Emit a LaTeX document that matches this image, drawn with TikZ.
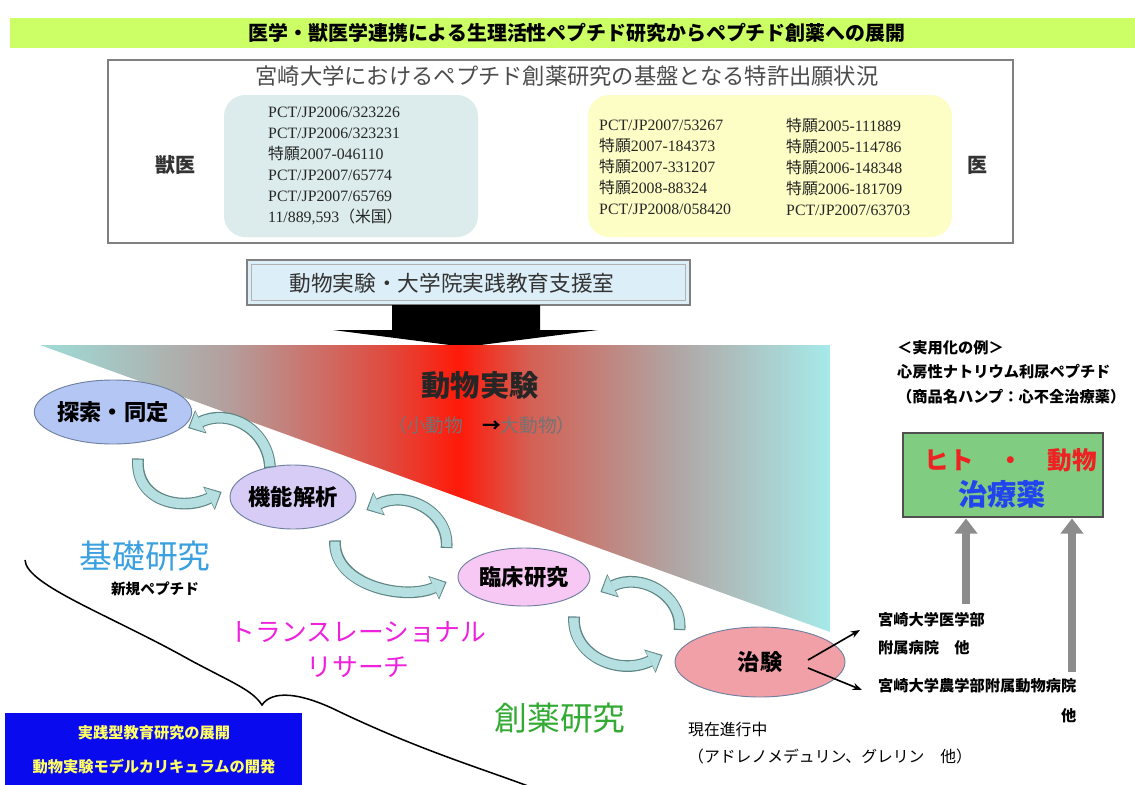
\documentclass[tikz,border=0pt]{standalone}
\usepackage{fontspec}
\setmainfont{Noto Sans CJK JP}
\newfontfamily\ser{Liberation Serif}
\newfontfamily\jp{Noto Sans CJK JP}
\usetikzlibrary{shapes.geometric,arrows.meta,calc}
\definecolor{titlegreen}{HTML}{CCFF66}
\definecolor{boxedge}{HTML}{808080}
\definecolor{tealbox}{HTML}{DCECEC}
\definecolor{yellowbox}{HTML}{FDFDC6}
\definecolor{supfill}{HTML}{DCEEF8}
\definecolor{tl}{HTML}{9EDCD8}
\definecolor{grA}{HTML}{B49E9C}
\definecolor{rdA}{HTML}{E04A3E}
\definecolor{rd}{HTML}{FF1A0A}
\definecolor{rdB}{HTML}{D46054}
\definecolor{grB}{HTML}{B0A4A2}
\definecolor{tr}{HTML}{A6EAEA}
\definecolor{arrowfill}{HTML}{B5DFE0}
\definecolor{arrowedge}{HTML}{5F8585}
\definecolor{elledge}{HTML}{7080A0}
\definecolor{eA}{HTML}{B4C6F4}
\definecolor{eB}{HTML}{D6CCF6}
\definecolor{eC}{HTML}{F8C8F4}
\definecolor{eD}{HTML}{F0A0A6}
\definecolor{kisoblue}{HTML}{3AA0E0}
\definecolor{transmag}{HTML}{EE22DD}
\definecolor{souyakugreen}{HTML}{33AA33}
\definecolor{deepblue}{HTML}{0A0AEE}
\definecolor{yellowtext}{HTML}{FFFF66}
\definecolor{greenbox}{HTML}{80CC80}
\definecolor{greenedge}{HTML}{505050}
\definecolor{hred}{HTML}{EE2222}
\definecolor{hblue}{HTML}{2244EE}
\definecolor{arrowgray}{HTML}{8C8C8C}
\definecolor{darktext}{HTML}{333333}
\pgfdeclarehorizontalshading{animal}{100bp}{color(0bp)=(tl); color(25bp)=(tl); color(37bp)=(grA); color(47bp)=(rdA); color(51.5bp)=(rd); color(56bp)=(rdB); color(65bp)=(grB); color(75bp)=(tr); color(100bp)=(tr)}
\newcommand\tkg{{\jp 特願}}
\newcommand\carr[1]{%
  \draw[cbg] #1;
  \draw[cfg, shorten <=1pt, shorten >=1.5pt] #1;}
\begin{document}
\begin{tikzpicture}[x=0.03cm,y=-0.03cm,
  cbg/.style={draw=arrowedge, line width=10pt, -{Triangle[length=12pt,width=22pt,line width=0.6pt]}},
  cfg/.style={draw=arrowfill, line width=8pt, -{Triangle[length=10pt,width=19pt,line width=0.1pt]}},
  ell/.style={ellipse, draw=elledge, line width=0.8pt, inner sep=0pt, font=\bfseries\fontsize{19}{19}\selectfont},
  pat/.style={font=\ser\fontsize{13.5}{18}\selectfont, align=left, inner sep=0pt, text=black!85},
  rtext/.style={font=\bfseries\fontsize{13}{21}\selectfont, inner sep=0pt, align=left},
  blk/.style={-{Stealth[length=8pt,width=6pt]}, line width=1.4pt},
  garr/.style={draw=arrowgray, line width=6pt, -{Triangle[length=13pt,width=19pt]}}
]
\useasboundingbox (0,0) rectangle (1135,785);
% title bar
\fill[titlegreen] (10,18) rectangle (1135,48);
\node[font=\bfseries\fontsize{17}{17}\selectfont, inner sep=0pt] (title) at (577,33) {医学・獣医学連携による生理活性ペプチド研究からペプチド創薬への展開};
% patent box
\node[draw=boxedge, line width=1.2pt, fill=white, minimum width=27.15cm, minimum height=5.49cm, inner sep=0pt] (patbox) at (560.5,151.5) {};
\node[font=\fontsize{19}{19}\selectfont, text=black!70, inner sep=0pt] (pattitle) at (567,76) {宮崎大学におけるペプチド創薬研究の基盤となる特許出願状況};
\fill[tealbox, rounded corners=18] (224,95) rectangle (478,237);
\fill[yellowbox, rounded corners=18] (588,95) rectangle (952,237);
\node[pat, anchor=west] (patL) at (268,166) {PCT/JP2006/323226\\PCT/JP2006/323231\\\tkg 2007-046110\\PCT/JP2007/65774\\PCT/JP2007/65769\\11/889,593{\jp （米国）}};
\node[pat, anchor=west] (patR1) at (599,167) {PCT/JP2007/53267\\\tkg 2007-184373\\\tkg 2007-331207\\\tkg 2008-88324\\PCT/JP2008/058420};
\node[pat, anchor=west] (patR2) at (786,167) {\tkg 2005-111889\\\tkg 2005-114786\\\tkg 2006-148348\\\tkg 2006-181709\\PCT/JP2007/63703};
\node[font=\bfseries\fontsize{17}{17}\selectfont, text=darktext, inner sep=0pt] (vet) at (175,165) {獣医};
\node[font=\bfseries\fontsize{17}{17}\selectfont, text=darktext, inner sep=0pt] (med) at (977,165) {医};
% support box
\node[draw=gray, line width=1.2pt, fill=supfill, minimum width=13.29cm, minimum height=1.35cm, inner sep=0pt] (sup) at (468.5,282.5) {};
\draw[gray!60, line width=0.8pt] ($(sup.south west)+(5,-5)$) rectangle ($(sup.north east)+(-5,5)$);
\node[font=\fontsize{18.5}{18.5}\selectfont, text=darktext, inner sep=0pt] (suptext) at (452,283) {動物実験・大学院実践教育支援室};
% big black arrow
\fill[black] (392,305) -- (540,305) -- (540,330) -- (598,330) -- (465,347) -- (333,330) -- (392,330) -- cycle;
% gradient triangle
\shade[shading=animal] (40,345) -- (830,345) -- (830,632) -- cycle;
\node[font=\bfseries\fontsize{25}{25}\selectfont, text=black!85, inner sep=0pt] (doubutsu) at (480,385) {動物実験};
\node[font=\fontsize{16}{16}\selectfont, text=black!55, inner sep=0pt] (sizes) at (482,425) {（小動物　{\color{black}\bfseries →}大動物）};
% ellipses
\node[ell, fill=eA, minimum width=4.5cm, minimum height=1.92cm] (e1) at (113,412) {探索・同定};
\node[ell, fill=eB, minimum width=3.42cm, minimum height=1.92cm] (e2) at (293,497) {機能解析};
\node[ell, fill=eC, minimum width=3.96cm, minimum height=1.74cm] (e3) at (524,577) {臨床研究};
\node[ell, fill=eD, minimum width=5.1cm, minimum height=2.1cm] (e4) at (760,662) {治験};
% cycle arrows
\carr{($(e2.north)+(-23,3)$) .. controls ($(e2.north)+(-25,-35)$) and ($(e1.east)+(37,-4)$) .. ($(e1.east)+(-4,16)$)}
\carr{($(e1.south)+(25,14)$) .. controls ($(e1.south)+(22,58)$) and ($(e2.west)+(-46,14)$) .. ($(e2.west)+(-8,-5)$)}
\carr{($(e3.west)+(-11,-29)$) .. controls ($(e3.west)+(-8,-65)$) and ($(e2.east)+(50,-7)$) .. ($(e2.east)+(10,13)$)}
\carr{($(e2.south)+(42,11)$) .. controls ($(e2.south)+(40,56)$) and ($(e3.west)+(-53,24)$) .. ($(e3.west)+(-11,5)$)}
\carr{($(e4.west)+(5,-32)$) .. controls ($(e4.west)+(8,-67)$) and ($(e3.east)+(50,-5)$) .. ($(e3.east)+(10,15)$)}
\carr{($(e3.south)+(50,10)$) .. controls ($(e3.south)+(48,50)$) and ($(e4.west)+(-55,14)$) .. ($(e4.west)+(-12,-7)$)}
% labels
\node[font=\fontsize{28}{28}\selectfont, text=kisoblue, inner sep=0pt] (kiso) at (145,556) {基礎研究};
\node[font=\bfseries\fontsize{12.5}{12.5}\selectfont, inner sep=0pt] (shinki) at (155,589) {新規ペプチド};
\node[font=\fontsize{22}{30}\selectfont, text=transmag, inner sep=0pt, align=center] (trans) at (358,650) {トランスレーショナル\\リサーチ};
\node[font=\fontsize{28}{28}\selectfont, text=souyakugreen, inner sep=0pt] (souyaku) at (560,718) {創薬研究};
% brace
\draw[line width=1.3pt] (25,560) .. controls (26,585) and (110,615) .. (190,660) .. controls (235,684) and (252,690) .. (262,705) .. controls (272,690) and (300,692) .. (340,712) .. controls (420,750) and (480,768) .. (528,786);
% blue box
\fill[deepblue] (5,713) rectangle (302,790);
\node[font=\bfseries\fontsize{13}{13}\selectfont, text=yellowtext, inner sep=0pt] (edu1) at (154,733) {実践型教育研究の展開};
\node[font=\bfseries\fontsize{13}{13}\selectfont, text=yellowtext, inner sep=0pt] (edu2) at (154,767) {動物実験モデルカリキュラムの開発};
% right side
\node[rtext, anchor=north west] (example) at (897,340) {＜実用化の例＞\\心房性ナトリウム利尿ペプチド\\（商品名ハンプ：心不全治療薬）};
\node[draw=greenedge, line width=2.5pt, fill=greenbox, minimum width=6cm, minimum height=2.52cm, inner sep=0pt] (gbox) at (1003,475) {};
\node[font=\bfseries\fontsize{21}{21}\selectfont, text=hred, inner sep=0pt] (hito) at (1011,460) {ヒト　・　動物};
\node[font=\bfseries\fontsize{25}{25}\selectfont, text=hblue, inner sep=0pt] (chiryo) at (1002,494) {治療薬};
\node[rtext, anchor=west, font=\bfseries\fontsize{13}{24}\selectfont] (h1) at (878,634) {宮崎大学医学部\\附属病院　他};
\node[rtext, anchor=north west, align=right, font=\bfseries\fontsize{13}{26}\selectfont] (h2) at (878,678) {宮崎大学農学部附属動物病院\\他};
\node[rtext, anchor=north west, font=\fontsize{13.5}{23}\selectfont] (prog) at (688,722) {現在進行中\\（アドレノメデュリン、グレリン　他）};
\draw[blk] ($(e4.center)+(48,-2)$) -- ($(h1.west)+(-18,-4)$);
\draw[blk] ($(e4.center)+(48,6)$) -- ($(h2.north west)+(-16,12)$);
\coordinate (g1) at (966,604);
\coordinate (g2) at (1072,672);
\draw[garr] (g1) -- (g1 |- gbox.south);
\draw[garr] (g2) -- (g2 |- gbox.south);
\end{tikzpicture}
\end{document}
